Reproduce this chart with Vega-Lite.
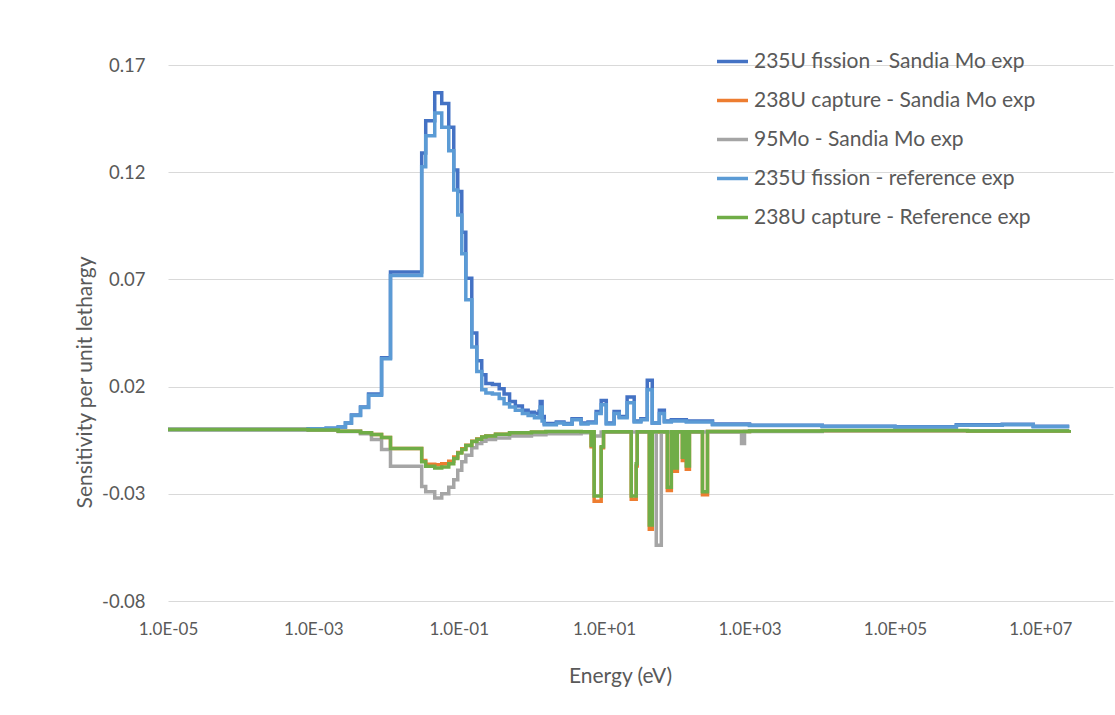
{
 "$schema": "https://vega.github.io/schema/vega-lite/v6.json",
 "width": 945,
 "height": 536,
 "autosize": {"type": "none"},
 "padding": {"left": 168, "top": 65, "right": 2, "bottom": 114},
 "background": "white",
 "config": {"view": {"stroke": null}, "font": "Lato"},
 "data": {"values": [
  {"s":"A","E":1e-5,"v":0},{"s":"A","E":8.5e-4,"v":0.0003},{"s":"A","E":1.5e-3,"v":0.0006},{"s":"A","E":2.2e-3,"v":0.0012},{"s":"A","E":2.76e-3,"v":0.003},{"s":"A","E":3.34e-3,"v":0.0067},{"s":"A","E":4.45e-3,"v":0.0105},{"s":"A","E":5.74e-3,"v":0.0165},{"s":"A","E":8.67e-3,"v":0.0335},{"s":"A","E":0.0115,"v":0.0735},{"s":"A","E":0.0309,"v":0.129},{"s":"A","E":0.0351,"v":0.144},{"s":"A","E":0.0467,"v":0.157},{"s":"A","E":0.0583,"v":0.152},{"s":"A","E":0.0728,"v":0.141},{"s":"A","E":0.0853,"v":0.121},{"s":"A","E":0.0968,"v":0.111},{"s":"A","E":0.110,"v":0.092},{"s":"A","E":0.125,"v":0.0705},{"s":"A","E":0.151,"v":0.045},{"s":"A","E":0.177,"v":0.032},{"s":"A","E":0.207,"v":0.0255},{"s":"A","E":0.236,"v":0.0215},{"s":"A","E":0.29,"v":0.021},{"s":"A","E":0.36,"v":0.019},{"s":"A","E":0.42,"v":0.0165},{"s":"A","E":0.5,"v":0.013},{"s":"A","E":0.6,"v":0.011},{"s":"A","E":0.75,"v":0.009},{"s":"A","E":0.9,"v":0.008},{"s":"A","E":1.1,"v":0.0075},{"s":"A","E":1.27,"v":0.0085},{"s":"A","E":1.32,"v":0.013},{"s":"A","E":1.4,"v":0.006},{"s":"A","E":1.5,"v":0.0028},{"s":"A","E":2.2,"v":0.0035},{"s":"A","E":2.8,"v":0.0028},{"s":"A","E":3.62,"v":0.005},{"s":"A","E":4.82,"v":0.003},{"s":"A","E":6.0,"v":0.0035},{"s":"A","E":7.76,"v":0.0084},{"s":"A","E":9.1,"v":0.0135},{"s":"A","E":10.7,"v":0.003},{"s":"A","E":13.7,"v":0.0084},{"s":"A","E":16.1,"v":0.006},{"s":"A","E":20.7,"v":0.0152},{"s":"A","E":25.9,"v":0.004},{"s":"A","E":32,"v":0.005},{"s":"A","E":39.2,"v":0.023},{"s":"A","E":45.9,"v":0.003},{"s":"A","E":57.4,"v":0.009},{"s":"A","E":67.3,"v":0.004},{"s":"A","E":84,"v":0.0045},{"s":"A","E":135,"v":0.004},{"s":"A","E":309,"v":0.0025},{"s":"A","E":1000,"v":0.002},{"s":"A","E":10000,"v":0.0015},{"s":"A","E":100000,"v":0.0013},{"s":"A","E":700000,"v":0.0022},{"s":"A","E":3000000,"v":0.0024},{"s":"A","E":8000000,"v":0.0015},{"s":"A","E":25000000,"v":0.0015},
  {"s":"B","E":1e-5,"v":0},{"s":"B","E":8.5e-4,"v":-0.0003},{"s":"B","E":2.2e-3,"v":-0.0008},{"s":"B","E":4.45e-3,"v":-0.0015},{"s":"B","E":6.3e-3,"v":-0.0023},{"s":"B","E":8.67e-3,"v":-0.0037},{"s":"B","E":0.0115,"v":-0.0089},{"s":"B","E":0.0309,"v":-0.0145},{"s":"B","E":0.0351,"v":-0.0162},{"s":"B","E":0.0467,"v":-0.0165},{"s":"B","E":0.0583,"v":-0.016},{"s":"B","E":0.0728,"v":-0.0148},{"s":"B","E":0.0853,"v":-0.0128},{"s":"B","E":0.0968,"v":-0.0107},{"s":"B","E":0.110,"v":-0.009},{"s":"B","E":0.125,"v":-0.0073},{"s":"B","E":0.151,"v":-0.0055},{"s":"B","E":0.177,"v":-0.0044},{"s":"B","E":0.207,"v":-0.0035},{"s":"B","E":0.236,"v":-0.003},{"s":"B","E":0.32,"v":-0.0022},{"s":"B","E":0.5,"v":-0.0016},{"s":"B","E":1.0,"v":-0.0013},{"s":"B","E":1.58,"v":-0.0011},{"s":"B","E":4.82,"v":-0.0012},{"s":"B","E":6.62,"v":-0.008},{"s":"B","E":7.05,"v":-0.0012},{"s":"B","E":7.28,"v":-0.0335},{"s":"B","E":9.1,"v":-0.0085},{"s":"B","E":9.8,"v":-0.0012},{"s":"B","E":23.6,"v":-0.0325},{"s":"B","E":27.6,"v":-0.017},{"s":"B","E":28.5,"v":-0.0012},{"s":"B","E":41.8,"v":-0.0465},{"s":"B","E":45.9,"v":-0.0012},{"s":"B","E":74,"v":-0.0285},{"s":"B","E":84,"v":-0.0012},{"s":"B","E":92.5,"v":-0.0195},{"s":"B","E":101.6,"v":-0.0012},{"s":"B","E":119,"v":-0.0145},{"s":"B","E":127,"v":-0.0012},{"s":"B","E":135,"v":-0.0185},{"s":"B","E":149,"v":-0.0012},{"s":"B","E":225,"v":-0.0305},{"s":"B","E":264,"v":-0.001},{"s":"B","E":1000,"v":-0.0008},{"s":"B","E":10000,"v":-0.0006},{"s":"B","E":100000,"v":-0.0006},{"s":"B","E":1000000,"v":-0.0008},{"s":"B","E":25000000,"v":-0.0003},
  {"s":"C","E":1e-5,"v":0},{"s":"C","E":8.5e-4,"v":-0.0003},{"s":"C","E":2.2e-3,"v":-0.001},{"s":"C","E":4.45e-3,"v":-0.002},{"s":"C","E":6.3e-3,"v":-0.0047},{"s":"C","E":8.67e-3,"v":-0.0093},{"s":"C","E":0.0115,"v":-0.0172},{"s":"C","E":0.0309,"v":-0.0266},{"s":"C","E":0.0351,"v":-0.029},{"s":"C","E":0.0467,"v":-0.032},{"s":"C","E":0.0583,"v":-0.03},{"s":"C","E":0.0728,"v":-0.027},{"s":"C","E":0.0853,"v":-0.0235},{"s":"C","E":0.0968,"v":-0.019},{"s":"C","E":0.110,"v":-0.015},{"s":"C","E":0.125,"v":-0.012},{"s":"C","E":0.151,"v":-0.0085},{"s":"C","E":0.177,"v":-0.0065},{"s":"C","E":0.207,"v":-0.0055},{"s":"C","E":0.236,"v":-0.0047},{"s":"C","E":0.32,"v":-0.004},{"s":"C","E":0.5,"v":-0.003},{"s":"C","E":1.0,"v":-0.0025},{"s":"C","E":1.58,"v":-0.002},{"s":"C","E":4.82,"v":-0.0015},{"s":"C","E":7.28,"v":-0.003},{"s":"C","E":9.1,"v":-0.0012},{"s":"C","E":52.1,"v":-0.054},{"s":"C","E":61.1,"v":-0.0012},{"s":"C","E":776,"v":-0.0065},{"s":"C","E":853,"v":-0.001},{"s":"C","E":10000,"v":-0.0006},{"s":"C","E":25000000,"v":-0.0003},
  {"s":"D","E":1e-5,"v":0},{"s":"D","E":8.5e-4,"v":0.0003},{"s":"D","E":1.5e-3,"v":0.0006},{"s":"D","E":2.2e-3,"v":0.0012},{"s":"D","E":2.76e-3,"v":0.003},{"s":"D","E":3.34e-3,"v":0.0065},{"s":"D","E":4.45e-3,"v":0.0103},{"s":"D","E":5.74e-3,"v":0.016},{"s":"D","E":8.67e-3,"v":0.033},{"s":"D","E":0.0115,"v":0.0718},{"s":"D","E":0.0309,"v":0.1225},{"s":"D","E":0.0351,"v":0.137},{"s":"D","E":0.0467,"v":0.1476},{"s":"D","E":0.0583,"v":0.141},{"s":"D","E":0.0728,"v":0.13},{"s":"D","E":0.0853,"v":0.1117},{"s":"D","E":0.0968,"v":0.1},{"s":"D","E":0.110,"v":0.082},{"s":"D","E":0.125,"v":0.0605},{"s":"D","E":0.151,"v":0.0385},{"s":"D","E":0.177,"v":0.027},{"s":"D","E":0.207,"v":0.0185},{"s":"D","E":0.236,"v":0.017},{"s":"D","E":0.29,"v":0.0165},{"s":"D","E":0.36,"v":0.0145},{"s":"D","E":0.42,"v":0.012},{"s":"D","E":0.5,"v":0.0105},{"s":"D","E":0.6,"v":0.009},{"s":"D","E":0.75,"v":0.0075},{"s":"D","E":0.9,"v":0.0065},{"s":"D","E":1.1,"v":0.0055},{"s":"D","E":1.27,"v":0.006},{"s":"D","E":1.32,"v":0.0105},{"s":"D","E":1.4,"v":0.004},{"s":"D","E":1.5,"v":0.0022},{"s":"D","E":2.2,"v":0.003},{"s":"D","E":2.8,"v":0.0024},{"s":"D","E":3.62,"v":0.0045},{"s":"D","E":4.82,"v":0.0025},{"s":"D","E":6.0,"v":0.003},{"s":"D","E":7.76,"v":0.0075},{"s":"D","E":9.1,"v":0.0115},{"s":"D","E":10.7,"v":0.0025},{"s":"D","E":13.7,"v":0.0075},{"s":"D","E":16.1,"v":0.0055},{"s":"D","E":20.7,"v":0.0125},{"s":"D","E":25.9,"v":0.0035},{"s":"D","E":32,"v":0.0045},{"s":"D","E":39.2,"v":0.0185},{"s":"D","E":45.9,"v":0.003},{"s":"D","E":57.4,"v":0.0075},{"s":"D","E":67.3,"v":0.0035},{"s":"D","E":84,"v":0.004},{"s":"D","E":135,"v":0.0035},{"s":"D","E":309,"v":0.0022},{"s":"D","E":1000,"v":0.0018},{"s":"D","E":10000,"v":0.0014},{"s":"D","E":100000,"v":0.0012},{"s":"D","E":700000,"v":0.002},{"s":"D","E":3000000,"v":0.0022},{"s":"D","E":8000000,"v":0.0013},{"s":"D","E":25000000,"v":0.0013},
  {"s":"E","E":1e-5,"v":0},{"s":"E","E":8.5e-4,"v":-0.0003},{"s":"E","E":2.2e-3,"v":-0.0008},{"s":"E","E":4.45e-3,"v":-0.0015},{"s":"E","E":6.3e-3,"v":-0.0023},{"s":"E","E":8.67e-3,"v":-0.0037},{"s":"E","E":0.0115,"v":-0.0089},{"s":"E","E":0.0309,"v":-0.015},{"s":"E","E":0.0351,"v":-0.0172},{"s":"E","E":0.0467,"v":-0.018},{"s":"E","E":0.0583,"v":-0.0175},{"s":"E","E":0.0728,"v":-0.016},{"s":"E","E":0.0853,"v":-0.0135},{"s":"E","E":0.0968,"v":-0.011},{"s":"E","E":0.110,"v":-0.0093},{"s":"E","E":0.125,"v":-0.0075},{"s":"E","E":0.151,"v":-0.0056},{"s":"E","E":0.177,"v":-0.0045},{"s":"E","E":0.207,"v":-0.0035},{"s":"E","E":0.236,"v":-0.003},{"s":"E","E":0.32,"v":-0.0022},{"s":"E","E":0.5,"v":-0.0015},{"s":"E","E":1.0,"v":-0.0012},{"s":"E","E":1.58,"v":-0.001},{"s":"E","E":4.82,"v":-0.0011},{"s":"E","E":6.62,"v":-0.0075},{"s":"E","E":7.05,"v":-0.0011},{"s":"E","E":7.28,"v":-0.031},{"s":"E","E":9.1,"v":-0.008},{"s":"E","E":9.8,"v":-0.0011},{"s":"E","E":23.6,"v":-0.031},{"s":"E","E":27.6,"v":-0.016},{"s":"E","E":28.5,"v":-0.0011},{"s":"E","E":41.8,"v":-0.0445},{"s":"E","E":45.9,"v":-0.0011},{"s":"E","E":74,"v":-0.027},{"s":"E","E":84,"v":-0.0011},{"s":"E","E":92.5,"v":-0.018},{"s":"E","E":101.6,"v":-0.0011},{"s":"E","E":119,"v":-0.013},{"s":"E","E":127,"v":-0.0011},{"s":"E","E":135,"v":-0.017},{"s":"E","E":149,"v":-0.0011},{"s":"E","E":225,"v":-0.029},{"s":"E","E":264,"v":-0.0009},{"s":"E","E":1000,"v":-0.0007},{"s":"E","E":10000,"v":-0.0005},{"s":"E","E":100000,"v":-0.0005},{"s":"E","E":1000000,"v":-0.0007},{"s":"E","E":25000000,"v":-0.0003}
 ]},
 "mark": {"type": "line", "interpolate": "step-after", "strokeWidth": 3.5, "clip": true},
 "encoding": {
  "x": {"field": "E", "type": "quantitative",
   "scale": {"type": "log", "domain": [1e-5, 1e8], "nice": false},
   "axis": {"values": [1e-5, 1e-3, 1e-1, 1e1, 1e3, 1e5, 1e7],
    "labelExpr": "'1.0E' + (datum.value < 1 ? '-' : '+') + '0' + abs(round(log(datum.value) / LN10))",
    "grid": false, "domain": false, "ticks": false, "labelFontSize": 17, "labelColor": "#595959", "labelPadding": 20, "labelFlush": false, "labelOverlap": false,
    "title": "Energy (eV)", "titleFontSize": 21, "titleColor": "#595959", "titleFontWeight": "normal", "titleX": 452, "titleY": 75, "titleBaseline": "middle", "titleAlign": "center"}},
  "y": {"field": "v", "type": "quantitative",
   "scale": {"domain": [-0.08, 0.17], "nice": false, "zero": false},
   "axis": {"values": [-0.08, -0.03, 0.02, 0.07, 0.12, 0.17],
    "labelExpr": "(datum.value < 0 ? '-' : '') + format(abs(datum.value), '.2f')",
    "grid": true, "gridColor": "#D9D9D9", "gridWidth": 1, "domain": false, "ticks": false, "labelFontSize": 18.5, "labelColor": "#595959", "labelPadding": 23,
    "title": "Sensitivity per unit lethargy", "titleFontSize": 21, "titleColor": "#595959", "titleFontWeight": "normal", "titleX": -83, "titleY": 317, "titleBaseline": "middle", "titleAlign": "center", "titleAngle": -90}},
  "color": {"field": "s", "type": "nominal",
   "scale": {"domain": ["A", "B", "C", "D", "E"], "range": ["#4472C4", "#ED7D31", "#A5A5A5", "#5B9BD5", "#70AD47"]},
   "legend": {"orient": "none", "legendX": 547, "legendY": -21, "title": null, "padding": 0,
    "symbolType": "stroke", "symbolStrokeWidth": 3.5, "symbolSize": 961, "symbolOffset": 0,
    "labelFontSize": 21, "labelColor": "#595959", "labelOffset": 4, "labelLimit": 400, "rowPadding": 11,
    "labelExpr": "{'A': '235U fission - Sandia Mo exp', 'B': '238U capture - Sandia Mo exp', 'C': '95Mo - Sandia Mo exp', 'D': '235U fission - reference exp', 'E': '238U capture - Reference exp'}[datum.label]"}}
 }
}
